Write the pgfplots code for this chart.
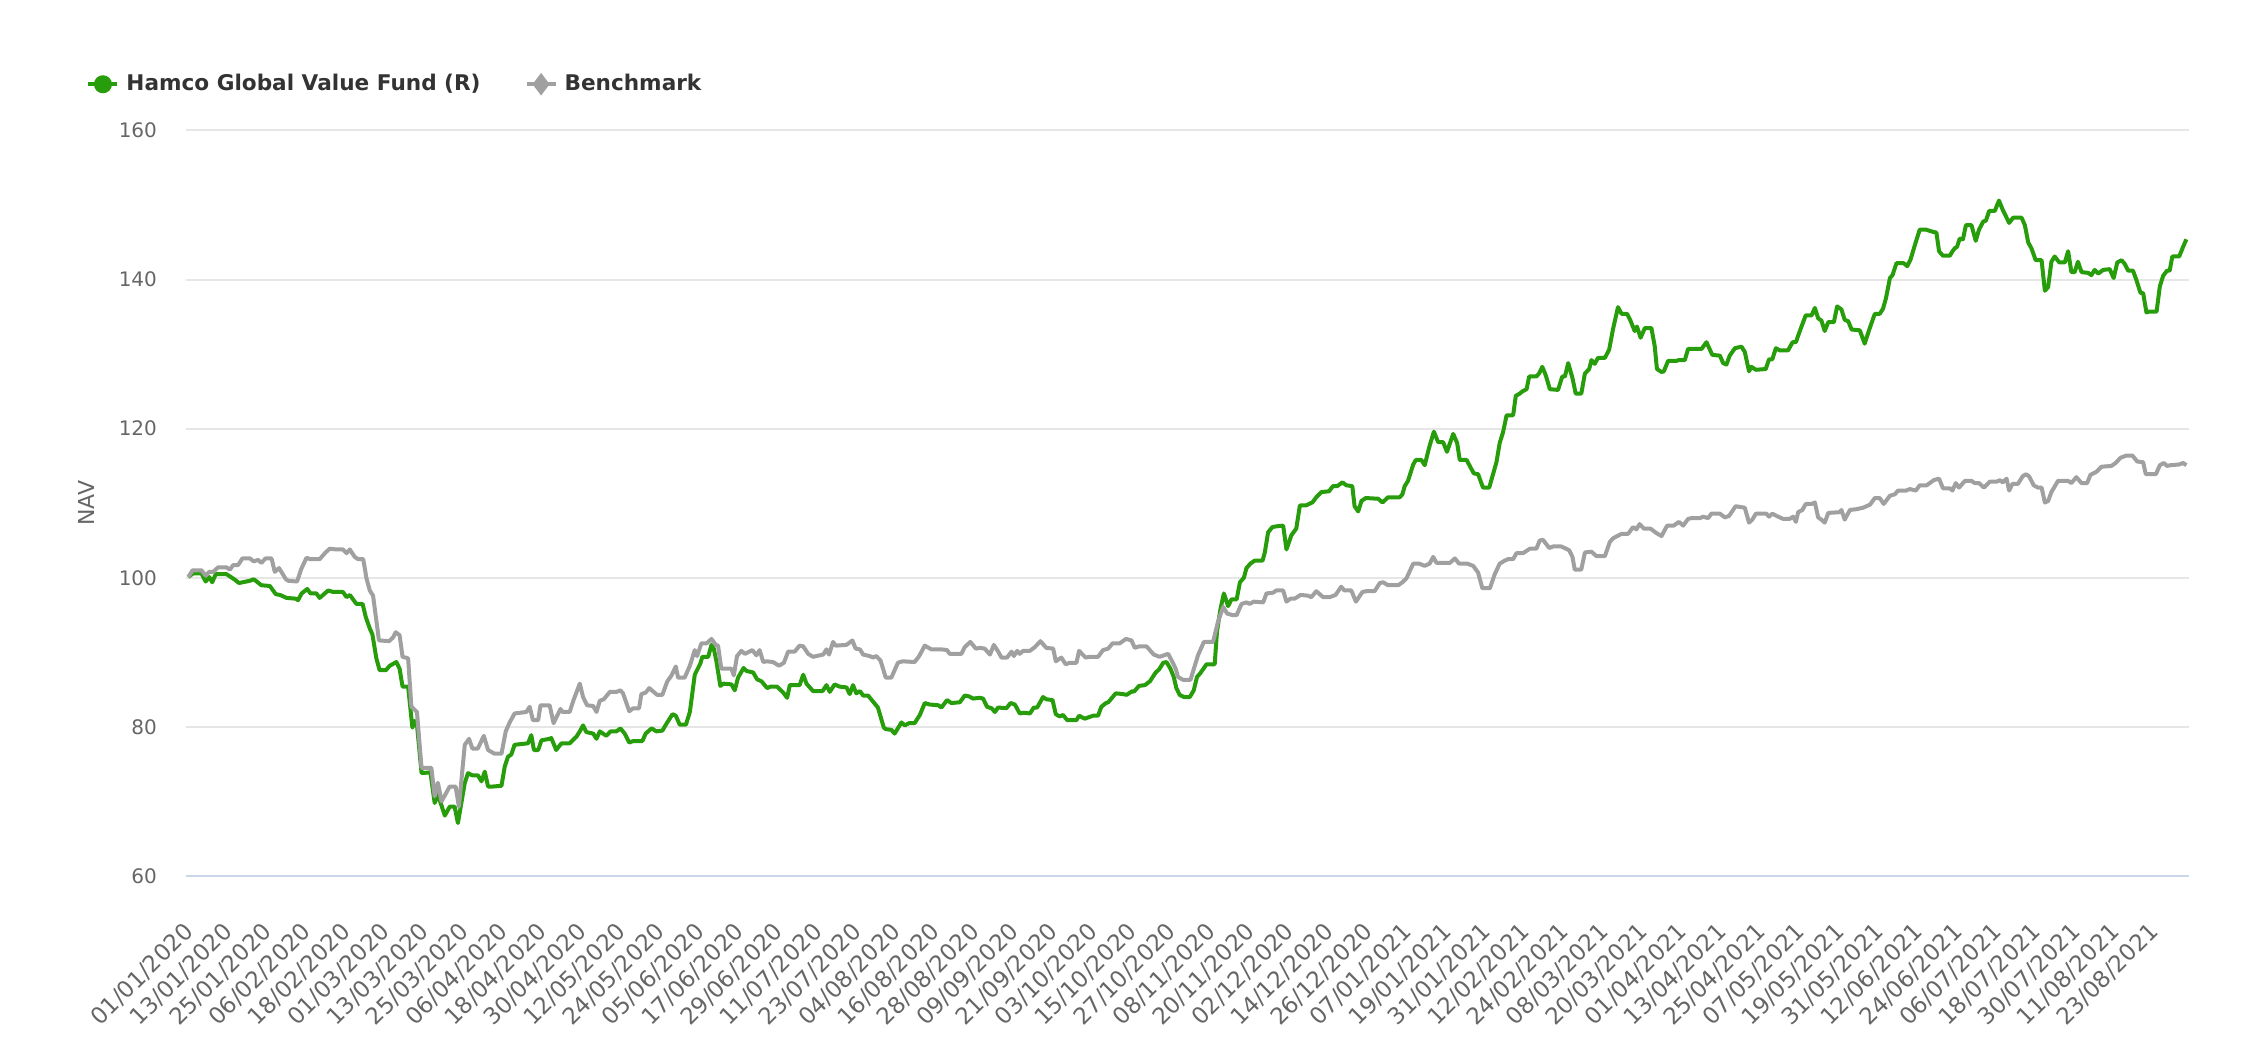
\documentclass[border=0pt]{standalone}
\usepackage{pgfplots}
\pgfplotsset{compat=1.18}
\usepackage{fontspec}
\setmainfont{DejaVu Sans}
\definecolor{fundgreen}{RGB}{40,157,12}
\definecolor{benchgray}{RGB}{160,160,160}
\definecolor{gridgray}{RGB}{230,230,230}
\definecolor{axisblue}{RGB}{204,214,235}
\definecolor{ticktext}{RGB}{102,102,102}
\definecolor{legendtext}{RGB}{51,51,51}
\begin{document}
\begin{tikzpicture}
\path[use as bounding box] (0,0) rectangle (1123pt,526pt);
\begin{axis}[
  at={(93pt,88pt)}, anchor=south west,
  scale only axis, width=1001.5pt, height=372.75pt,
  xmin=-0.7, xmax=610.7, ymin=60, ymax=160,
  ytick={60,80,...,160},
  xtick={0,12,...,600},
  xticklabels={01/01/2020,13/01/2020,25/01/2020,06/02/2020,18/02/2020,01/03/2020,13/03/2020,25/03/2020,06/04/2020,18/04/2020,30/04/2020,12/05/2020,24/05/2020,05/06/2020,17/06/2020,29/06/2020,11/07/2020,23/07/2020,04/08/2020,16/08/2020,28/08/2020,09/09/2020,21/09/2020,03/10/2020,15/10/2020,27/10/2020,08/11/2020,20/11/2020,02/12/2020,14/12/2020,26/12/2020,07/01/2021,19/01/2021,31/01/2021,12/02/2021,24/02/2021,08/03/2021,20/03/2021,01/04/2021,13/04/2021,25/04/2021,07/05/2021,19/05/2021,31/05/2021,12/06/2021,24/06/2021,06/07/2021,18/07/2021,30/07/2021,11/08/2021,23/08/2021},
  axis lines*=left,
  x axis line style={draw=axisblue, line width=1pt},
  y axis line style={draw=none},
  major tick length=0pt,
  ymajorgrids, major grid style={draw=gridgray, line width=1pt},
  tick label style={font=\fontsize{10}{12}\selectfont, text=ticktext},
  /pgf/number format/assume math mode=true,
  yticklabel style={anchor=east, xshift=-11pt},
  xticklabel style={rotate=45, anchor=east, xshift=-14.4pt, yshift=-18.5pt, font=\fontsize{11.5}{13}\selectfont},
  ylabel={NAV},
  ylabel style={at={(axis description cs:-0.0499,0.5)}, anchor=center, font=\fontsize{11}{13}\selectfont, text=ticktext},
  legend columns=2,
  legend cell align=left,
  legend image code/.code={\draw[#1, mark repeat=2, mark phase=2] plot coordinates {(0pt,0pt) (7.25pt,0pt) (14.5pt,0pt)};},
  legend style={at={(-0.0499,1.062)}, anchor=west, draw=none, fill=none, inner sep=0pt,
    font=\fontsize{10.8}{13}\selectfont\bfseries, text=legendtext,
    nodes={inner sep=2pt},
    /tikz/every odd column/.append style={column sep=1.5pt},
    /tikz/every even column/.append style={column sep=20pt}},
]
\addlegendimage{color=fundgreen, line width=2pt, mark=*, mark size=3.5pt, mark options={solid}}
\addlegendentry{Hamco Global Value Fund (R)}
\addlegendimage{color=benchgray, line width=2pt, mark=diamond*, mark size=4pt, mark options={solid}}
\addlegendentry{Benchmark}
\addplot[fundgreen, line width=2pt, line join=round, forget plot] coordinates {
(0,100.1)(1.5,100.6)(4,100.6)(5.3,99.5)(6.4,100.1)(7.3,99.4)(8.4,100.5)(11.6,100.5)(13.7,99.9)(15.5,99.3)(18.8,99.6)(20,99.8)(22.3,99.0)(24.9,98.9)(26.7,97.8)(28,97.7)(30,97.3)(32.8,97.2)(33.5,97.0)(34.6,97.9)(36.3,98.5)(37.3,97.9)(39.1,97.9)(40.1,97.3)(42.7,98.3)(44.2,98.1)(47.2,98.1)(48.3,97.4)(49.3,97.7)(51.3,96.5)(53.2,96.5)(54.2,94.7)(55.4,93.2)(56.2,92.4)(57.4,89.2)(58.4,87.6)(60.3,87.6)(61.5,88.2)(63.5,88.7)(64.5,87.8)(65.4,85.4)(67.1,85.4)(68.4,79.9)(69.1,80.8)(69.8,80.3)(71.2,73.8)(73.9,73.9)(75.2,69.8)(76.2,70.9)(78.3,68.1)(79.8,69.3)(81.3,69.3)(82.3,67.1)(84.4,72.5)(85.4,73.8)(86.7,73.5)(88.4,73.5)(89.5,72.7)(90.5,74.0)(91.5,72.0)(93,72.0)(95.6,72.1)(96.6,74.7)(97.6,76.0)(98.6,76.3)(99.6,77.6)(103.7,77.8)(104.7,78.9)(105.5,76.9)(106.8,76.9)(107.8,78.2)(110.3,78.4)(110.8,78.5)(112.3,76.9)(113.9,77.8)(116.4,77.8)(118.5,78.7)
(119.5,79.4)(120.5,80.2)(121.5,79.3)(123.6,79.1)(124.6,78.4)(125.6,79.4)(126.6,79.1)(127.6,78.8)(128.9,79.4)(130.7,79.4)(131.9,79.8)(133.2,79.1)(134.6,77.9)(135.8,78.1)(138.6,78.1)(139.6,79.1)(141.4,79.8)(142.9,79.4)(144.7,79.5)(146.2,80.6)(147.8,81.7)(148.8,81.5)(150,80.3)(151.9,80.3)(153.1,82.0)(154.6,87.0)(156.3,88.5)(156.9,89.4)(158.7,89.4)(159.7,91.0)(160.4,90.5)(161.2,88.8)(162.4,85.5)(163.4,85.8)(165.8,85.7)(166.8,84.9)(167.8,86.6)(169.5,87.9)(170.4,87.5)(172.4,87.3)(173.6,86.4)(175,86.1)(176.7,85.2)(177.7,85.4)(179.7,85.4)(181.6,84.6)(182.8,83.9)(183.6,85.6)(186.6,85.6)(187.7,87.0)(188.7,85.8)(190.7,84.8)(193.6,84.8)(194.8,85.6)(195.8,84.7)(197.3,85.7)(198.8,85.4)(200.9,85.3)(201.9,84.4)(202.9,85.6)(203.9,84.5)(205,84.8)(206,84.2)(207.5,84.2)(209,83.4)(210.5,82.6)(212.3,79.9)(212.9,79.7)(214.6,79.6)(215.6,79.1)(217.7,80.6)(218.7,80.2)(220,80.5)(221.7,80.5)(223.3,81.6)(224.8,83.2)(226.3,83.0)(228.9,82.9)(229.9,82.6)(231.6,83.6)(232.9,83.2)(235.5,83.3)(237,84.2)(238.3,84.1)(239.5,83.8)
(241.6,83.9)(242.6,83.8)(243.8,82.7)(245.2,82.5)(246.2,82.0)(247.2,82.6)(249.7,82.5)(251,83.2)(252.3,83.0)(253.8,81.8)(255,81.9)(256.9,81.8)(258.1,82.6)(259.1,82.6)(260.9,84.0)(261.9,83.7)(263.8,83.6)(264.8,81.7)(266,81.4)(267,81.6)(268.3,80.9)(271.1,80.9)(271.9,81.5)(273.6,81.1)(276.2,81.5)(277.7,81.5)(278.7,82.7)(280.1,83.2)(280.8,83.3)(283.1,84.5)(285.3,84.4)(286.4,84.3)(288.2,84.8)(288.6,84.7)(290.2,85.5)(292,85.6)(293.5,86.1)(295.3,87.3)(296.3,87.7)(297.6,88.6)(298.6,88.7)(299.8,87.8)(300.8,86.7)(301.6,85.2)(302.6,84.3)(303.9,84.0)(305.7,84.0)(306.9,84.9)(307.9,86.7)(308.9,87.2)(310.8,88.4)(313.3,88.4)(314,92.8)(315.1,95.9)(316.1,97.9)(317.4,96.2)(318.4,97.1)(320,97.1)(321,99.4)(322.2,100.0)(323,101.3)(324.2,101.9)(325.5,102.3)(327.9,102.3)(328.6,103.4)(329.6,106.1)(330.9,106.8)(332.1,106.9)(334.2,107.0)(335.2,103.8)(336.7,105.7)(338.2,106.6)(339.3,109.7)(341.1,109.7)(343.1,110.1)(344.3,110.8)(345.9,111.5)(348.2,111.6)(349.4,112.3)(350.7,112.3)(352.3,112.8)(353.5,112.4)(355.3,112.3)(356,109.6)(357.1,108.9)(358.1,110.3)(359.4,110.7)(363.2,110.6)
(364.5,110.1)(366.2,110.8)(369.8,110.8)(370.6,111.2)(371.3,112.3)(372.3,113.0)(373.9,115.2)(374.7,115.8)(376.4,115.8)(377.4,115.1)(378.9,117.7)(380.2,119.6)(381.5,118.2)(383,118.2)(384.2,116.9)(386.1,119.3)(387.3,118.1)(388.1,115.8)(390.2,115.8)(391.4,114.8)(392.4,114.0)(393.7,113.9)(395.2,112.1)(397.1,112.1)(399.3,115.5)(400.3,118.1)(401.3,119.5)(402.4,121.8)(404.4,121.8)(405.2,124.4)(406.4,124.7)(407.2,125.0)(408.5,125.3)(409.3,127.0)(411.5,127.0)(412.3,127.4)(413.3,128.3)(414.4,127.1)(415.6,125.3)(418.1,125.2)(419.4,127.0)(420.2,127.0)(421.2,128.8)(422.5,126.8)(423.5,124.7)(425.2,124.7)(426.3,127.4)(427.6,128.0)(428.3,129.2)(429.3,128.7)(430.3,129.5)(432.4,129.5)(433.7,130.6)(434.9,133.4)(436.4,136.3)(437.5,135.4)(439.2,135.4)(440.2,134.5)(441.5,133.1)(442.2,133.7)(443.3,132.2)(444.6,133.5)(446.6,133.5)(447.6,131.1)(448.3,128.0)(449.7,127.6)(450.4,127.7)(451.7,129.1)(454.2,129.1)(455,129.2)(456.8,129.2)(457.8,130.7)(461.9,130.7)(463.4,131.6)(465.2,129.9)(467.5,129.8)(468.5,128.8)(469.5,128.6)(470.5,129.8)(472.1,130.8)(474.1,131.0)(475.1,130.3)(476.4,127.7)(477.1,128.3)(478.5,127.9)(481.5,128.0)(482.5,129.3)(483.5,129.3)(484.6,130.8)
(485.8,130.5)(488.3,130.5)(489.7,131.6)(490.7,131.6)(491.9,133.1)(493.7,135.2)(495.5,135.2)(496.5,136.2)(497.5,134.8)(498.5,134.5)(499.5,133.1)(500.6,134.3)(502.3,134.3)(503.3,136.4)(504.6,136.0)(505.6,134.6)(506.7,134.4)(507.7,133.3)(510.2,133.2)(511.7,131.4)(513.1,133.3)(514.3,134.8)(514.8,135.4)(516.3,135.4)(517.3,136.1)(518.2,137.5)(519.4,140.2)(520.2,140.6)(521.4,142.2)(523.6,142.2)(524.7,141.8)(525.7,142.7)(527,144.6)(528.5,146.7)(530.4,146.7)(532.6,146.4)(533.6,146.3)(534.4,143.8)(535.6,143.2)(537.7,143.2)(538.5,143.8)(539.2,144.2)(539.9,144.4)(540.7,145.5)(541.7,145.4)(542.6,147.3)(544.3,147.3)(545.6,145.2)(546.6,146.7)(547.9,147.8)(548.7,147.9)(549.7,149.2)(551.4,149.2)(552.7,150.6)(553.8,149.4)(555.8,147.6)(557,148.3)(559.6,148.3)(560.6,147.3)(561.6,145.0)(562.6,144.2)(563.9,142.6)(565.7,142.6)(566.7,138.5)(567.7,139.0)(568.7,142.4)(569.7,143.1)(571.1,142.3)(572.8,142.3)(573.8,143.8)(574.8,141.0)(575.8,141.0)(576.8,142.4)(577.9,141.0)(579.9,140.9)(580.9,140.6)(581.9,141.3)(583,140.8)(584.5,141.3)(586.5,141.4)(587.7,140.2)(588.8,142.3)(590.1,142.6)(591.1,142.1)(592.1,141.2)(593.6,141.2)(594.6,140.0)(595.9,138.2)(596.7,138.2)(597.7,135.6)(598.5,135.7)(600.8,135.7)(601.8,139.1)(602.8,140.5)(604,141.2)(604.8,141.2)(605.6,143.1)(607.7,143.1)(608.9,144.4)(609.9,145.4)
};
\addplot[benchgray, line width=2pt, line join=round, forget plot] coordinates {
(0,100.1)(1.3,101.0)(4,101.0)(5.3,100.3)(6.4,100.8)(7.6,100.8)(9.1,101.4)(11.6,101.4)(12.7,101.1)(13.7,101.7)(15.2,101.7)(16.5,102.6)(18.8,102.6)(20,102.2)(21.3,102.4)(22.3,102.0)(23.6,102.6)(25.4,102.6)(26.4,100.8)(27.7,101.3)(29.8,99.8)(30.5,99.6)(33.2,99.5)(34.5,101.2)(36.1,102.7)(37.1,102.5)(40.1,102.5)(41.9,103.4)(43.2,103.9)(45.2,103.8)(47.2,103.8)(48.3,103.3)(49.3,103.8)(50.8,102.8)(51.8,102.5)(53.4,102.5)(54.4,99.9)(55.4,98.3)(56.4,97.6)(58.2,91.6)(61.3,91.5)(62.5,92.0)(63.3,92.7)(64.5,92.3)(65.4,89.4)(67.1,89.2)(68.1,82.7)(69.8,82.0)(71.2,74.5)(74.2,74.5)(75.2,70.7)(76.2,72.5)(77.3,70.0)(79.8,72.0)(81.6,72.0)(82.6,69.3)(84.4,77.6)(85.7,78.4)(86.7,77.1)(88.4,77.1)(90.2,78.8)(91.5,76.9)(93.5,76.4)(95.6,76.4)(96.9,79.4)(98.1,80.6)(99.6,81.8)(103.2,82.0)(104.2,82.7)(105.2,80.9)(106.8,80.9)(107.5,82.9)(110.3,82.9)(111.5,80.5)(113.6,82.4)(114.2,82.0)(116.4,82.0)(117.6,83.6)
(119.5,85.8)(120.5,84.0)(121.7,82.9)(123.6,82.8)(124.6,82.0)(125.6,83.5)(126.8,83.7)(128.7,84.7)(130.7,84.7)(131.9,84.9)(132.7,84.5)(134.6,82.1)(135.8,82.5)(137.6,82.5)(138.3,84.4)(139.6,84.6)(140.7,85.2)(143.1,84.3)(144.7,84.3)(146.2,86.1)(147.5,86.9)(148.8,88.1)(149.5,86.6)(151.5,86.6)(153.1,88.2)(154.6,90.3)(155.3,89.5)(156.6,91.2)(158.2,91.2)(159.7,91.8)(161,91.0)(161.7,90.9)(162.7,87.8)(165.8,87.8)(166.5,86.9)(167.5,89.5)(168.8,90.2)(169.9,89.8)(172.2,90.3)(173.4,89.6)(174.4,90.3)(175.5,88.7)(176.5,88.8)(178.5,88.7)(180.3,88.2)(181.8,88.6)(183.1,90.1)(185.1,90.1)(186.6,90.9)(187.7,90.8)(189.2,89.8)(190.7,89.4)(193.8,89.7)(194.8,90.4)(195.6,89.7)(196.8,91.4)(197.6,90.9)(200.9,91.0)(202.7,91.6)(203.7,90.5)(205,90.4)(206,89.7)(208,89.5)(209,89.3)(210,89.5)(211.3,88.9)(212.9,86.6)(214.6,86.6)(216.6,88.6)(218,88.8)(221.7,88.7)(223.1,89.5)(224.8,90.9)(226.8,90.4)(229.9,90.4)(231.6,90.3)(232.4,89.8)(233.4,89.8)(236,89.8)(237,90.7)(238.7,91.4)(240.4,90.5)
(241.6,90.6)(243.1,90.5)(244.7,89.7)(245.9,91.0)(247.2,90.1)(248.2,89.3)(249.9,89.3)(251.3,90.1)(252,89.5)(253,90.2)(253.8,89.8)(254.8,90.2)(256.9,90.2)(258.4,90.7)(260.1,91.5)(261.9,90.6)(264,90.5)(264.8,88.8)(266.5,89.3)(267.8,88.4)(269.1,88.6)(271.1,88.6)(271.9,90.2)(273.9,89.3)(275.2,89.4)(277.7,89.4)(279.2,90.3)(280.8,90.5)(282.1,91.2)(284.3,91.2)(286.2,91.8)(287.9,91.6)(288.9,90.6)(290.2,90.8)(292.5,90.8)(294.7,89.7)(296.5,89.4)(299.1,89.8)(300.4,88.7)(301.4,87.8)(302.1,86.7)(303.7,86.3)(305.9,86.3)(308.2,89.6)(310,91.4)(312.8,91.4)(314.3,94.1)(315.9,96.1)(317.1,95.2)(318.7,95.0)(320,95.0)(321.5,96.5)(323,96.7)(324,96.5)(325.2,96.8)(328.1,96.7)(329.1,97.9)(331.1,98.0)(332.1,98.3)(334.2,98.3)(335.2,96.8)(336.4,97.2)(337.7,97.2)(339.5,97.7)(341.8,97.6)(342.8,97.4)(344.3,98.2)(346.4,97.4)(348.4,97.4)(350.2,97.7)(351.9,98.8)(352.9,98.3)(355,98.3)(356.4,96.8)(358.4,98.1)(359.6,98.2)(362.1,98.2)
(363.7,99.3)(364.7,99.4)(366.2,99.0)(369.3,99.0)(370.6,99.4)(371.8,99.9)(373.9,101.9)(375.7,101.9)(377.4,101.6)(378.9,101.9)(380,102.8)(381,102.0)(385.1,102.0)(386.6,102.6)(387.9,101.9)(390.4,101.9)(392.2,101.6)(393.7,100.7)(395,98.6)(397.3,98.6)(398.8,100.5)(400.3,101.9)(401.8,102.3)(402.9,102.5)(404.4,102.5)(405.4,103.3)(407.4,103.3)(409.5,103.9)(411.5,103.9)(412.5,105.0)(413.5,105.1)(415.4,104.0)(416.6,104.2)(419.1,104.2)(421.5,103.7)(422.5,102.8)(423.2,101.1)(425.2,101.1)(426.3,103.4)(428.3,103.5)(429.8,102.9)(432.4,102.9)(433.9,104.8)(434.9,105.3)(437.5,105.9)(439.5,105.9)(441,106.8)(442,106.5)(443,107.2)(444.3,106.6)(446.3,106.6)(448.1,106.0)(449.7,105.6)(451.4,107.0)(453.4,107.0)(455,107.5)(456.3,107.0)(457.8,107.9)(458.8,108.0)(461.4,108.0)(462.4,108.2)(463.9,108.0)(464.9,108.6)(467.5,108.6)(469,108.1)(470.3,108.3)(472.3,109.6)(475.1,109.4)(476.4,107.4)(477.4,107.8)(478.5,108.6)(481.7,108.6)(482.5,108.2)(483.5,108.6)(484.8,108.3)
(485.8,108.1)(486.8,107.9)(488.8,107.9)(489.9,108.2)(490.7,107.5)(491.4,108.8)(492.7,109.1)(493.7,109.9)(495.5,109.9)(496.5,110.1)(497.5,108.1)(498.5,107.8)(499.5,107.4)(500.6,108.7)(504.1,108.8)(504.6,109.1)(505.6,107.8)(507.2,109.1)(509.2,109.2)(511.2,109.4)(513.3,109.8)(514.8,110.7)(516.3,110.7)(517.5,109.9)(519.4,111.0)(520.9,111.2)(521.9,111.7)(524.3,111.7)(525.5,111.9)(527.3,111.7)(528.5,112.4)(530.6,112.4)(532.8,113.1)(534.4,113.3)(535.6,112.0)(537.7,112.0)(538.5,111.7)(539.5,112.7)(540.5,112.1)(542.3,113.0)(544.3,113.0)(545.3,112.7)(546.6,112.7)(548.1,112.1)(549.9,112.9)(552,112.9)(553,113.1)(553.8,112.8)(555,113.3)(555.8,111.7)(556.8,112.6)(558.5,112.6)(559.9,113.6)(560.9,113.9)(561.9,113.6)(563.3,112.4)(564.6,112.1)(565.7,112.1)(566.7,110.1)(567.7,110.3)(568.7,111.5)(570.7,113.0)(573.8,113.0)(574.8,112.7)(576.3,113.5)(577.9,112.7)(579.6,112.7)(580.6,113.8)(582.4,114.2)(584,114.9)(587,115.0)(588.3,115.4)(589.8,116.1)(591.6,116.4)(593.4,116.4)(594.9,115.6)(596.7,115.5)(597.5,113.9)(600.6,113.9)(601.8,115.1)(603,115.4)(604,115.0)(605,115.1)(607.7,115.2)(608.9,115.4)(609.9,115.1)
};
\end{axis}
\end{tikzpicture}
\end{document}
